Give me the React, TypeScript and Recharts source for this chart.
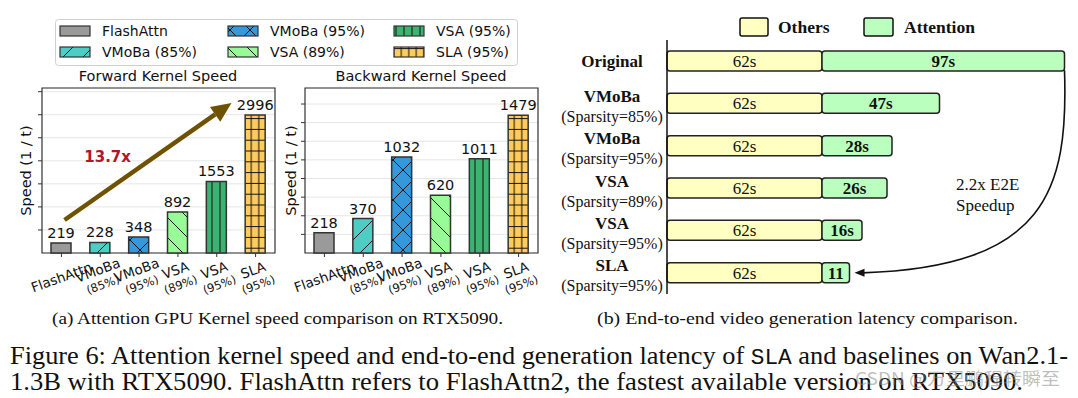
import React from 'react';
import { BarChart, Bar, XAxis, YAxis, CartesianGrid, LabelList, Cell, ReferenceLine, ReferenceDot, ReferenceArea } from 'recharts';

// (a) kernel speed
const kernelNames = ['FlashAttn', 'VMoBa', 'VMoBa', 'VSA', 'VSA', 'SLA'];
const kernelSparsity = ['', '(85%)', '(95%)', '(89%)', '(95%)', '(95%)'];
const legendLabels = ['FlashAttn', 'VMoBa (85%)', 'VMoBa (95%)', 'VSA (89%)', 'VSA (95%)', 'SLA (95%)'];
const forwardSpeed = [219, 228, 348, 892, 1553, 2996];
const backwardSpeed = [218, 370, 1032, 620, 1011, 1479];
const forwardTicks = [500, 1000, 1500, 2000, 2500, 3000, 3500];
const backwardTicks = [200, 400, 600, 800, 1000, 1200, 1400, 1600];

// (b) end-to-end latency
const e2eMethods = ['Original', 'VMoBa', 'VMoBa', 'VSA', 'VSA', 'SLA'];
const e2eSparsity = ['', '(Sparsity=85%)', '(Sparsity=95%)', '(Sparsity=89%)', '(Sparsity=95%)', '(Sparsity=95%)'];
const othersTime = [62, 62, 62, 62, 62, 62];
const attentionTime = [97, 47, 28, 26, 16, 11];
const attentionLabels = ['97s', '47s', '28s', '26s', '16s', '11'];

const kernelColors = ['#9a9a9a', '#4ecdc4', '#3498db', '#98fb98', '#3cb371', '#ffcb5c'];
const hatches = [
  { w: 20, h: 20, d: '' },
  { w: 20, h: 20, d: 'M-5,5L5,-5M0,20L20,0M15,25L25,15' },
  { w: 20, h: 20, d: 'M-5,5L5,-5M0,20L20,0M15,25L25,15M-5,15L5,25M0,0L20,20M15,-5L25,5' },
  { w: 20, h: 20, d: 'M-5,15L5,25M0,0L20,20M15,-5L25,5' },
  { w: 8, h: 10, d: 'M4,0V10' },
  { w: 7.5, h: 10.8, d: 'M3.75,0V10.8M0,5.4H7.5' },
];

const SANS = '"DejaVu Sans", sans-serif';
const SERIF = '"Liberation Serif", "Times New Roman", serif';

const PatternDefs = () => (
  <svg width={0} height={0} style={{ position: 'absolute' }}>
    <defs>
      {hatches.map((h, i) => (
        <pattern key={i} id={`hatch-${i}`} patternUnits="userSpaceOnUse" width={h.w} height={h.h}>
          <rect width={h.w} height={h.h} fill={kernelColors[i]} />
          {h.d && <path d={h.d} stroke="#111" strokeWidth={1} fill="none" />}
        </pattern>
      ))}
    </defs>
  </svg>
);

const KernelTick = (props: any) => {
  const { x, y, payload } = props;
  const i = payload.value;
  const sub = kernelSparsity[i];
  return (
    <g transform={`translate(${x},${y + 18}) rotate(-20)`}>
      <text textAnchor="middle" dominantBaseline="central" y={sub ? -7.5 : 0} fontSize={13.5} fill="#111" fontFamily={SANS}>
        {kernelNames[i]}
      </text>
      {sub && (
        <text textAnchor="middle" dominantBaseline="central" y={8} fontSize={11.5} fill="#111" fontFamily={SANS}>
          {sub}
        </text>
      )}
    </g>
  );
};

const SpeedArrow = (props: any) => {
  const { x1, y1, x2, y2 } = props;
  const ang = Math.atan2(y2 - y1, x2 - x1);
  const headLen = 20;
  const headHalf = 9;
  const bx = x2 - headLen * Math.cos(ang);
  const by = y2 - headLen * Math.sin(ang);
  const nx = -Math.sin(ang);
  const ny = Math.cos(ang);
  return (
    <g>
      <line x1={x1} y1={y1} x2={bx} y2={by} stroke="#6e5200" strokeWidth={4.5} />
      <polygon
        points={`${x2},${y2} ${bx + nx * headHalf},${by + ny * headHalf} ${bx - nx * headHalf},${by - ny * headHalf}`}
        fill="#6e5200"
      />
    </g>
  );
};

const SpeedupText = (props: any) => (
  <text x={props.cx} y={props.cy} textAnchor="middle" dominantBaseline="central" fontSize={15} fontWeight="bold" fill="#b5152b" fontFamily={SANS}>
    13.7x
  </text>
);

interface KernelChartProps {
  values: number[];
  ticks: number[];
  yMax: number;
  labelX: number;
  withArrow?: boolean;
}

const KernelChart = ({ values, ticks, yMax, labelX, withArrow }: KernelChartProps) => {
  const data = values.map((v, i) => ({ idx: i, speed: v }));
  return (
    <BarChart width={286} height={240} data={data} margin={{ top: 18, right: 11, bottom: 7, left: 0 }} style={{ fontFamily: SANS }}>
      <CartesianGrid vertical={false} stroke="#e6e6e6" />
      <XAxis
        type="number"
        dataKey="idx"
        domain={[-0.5, 5.5]}
        ticks={[0, 1, 2, 3, 4, 5]}
        interval={0}
        axisLine={false}
        tickSize={4}
        tickLine={{ stroke: '#333' }}
        tick={<KernelTick />}
        height={50}
      />
      <YAxis
        type="number"
        domain={[0, yMax]}
        ticks={ticks}
        width={42}
        axisLine={false}
        tickSize={4}
        tickLine={{ stroke: '#333' }}
        tickFormatter={() => ''}
        label={{ value: 'Speed (1 / t)', angle: -90, position: 'insideLeft', offset: labelX, style: { textAnchor: 'middle', fontSize: 14.5, fill: '#111', fontFamily: SANS } }}
      />
      <Bar dataKey="speed" barSize={20} isAnimationActive={false} stroke="#333" strokeWidth={1.5}>
        {data.map((d, i) => (
          <Cell key={d.idx} fill={`url(#hatch-${i})`} />
        ))}
        <LabelList dataKey="speed" position="top" offset={5} fontSize={14.5} fill="#111" fontFamily={SANS} />
      </Bar>
      <ReferenceArea x1={-0.5} x2={5.5} y1={0} y2={yMax} fill="none" stroke="#333" strokeWidth={1.2} />
      {withArrow && (
        <ReferenceLine segment={[{ x: 0.08, y: 716 }, { x: 4.38, y: 3255 }]} shape={SpeedArrow} />
      )}
      {withArrow && <ReferenceDot x={1.19} y={2083} r={0} shape={SpeedupText} />}
    </BarChart>
  );
};

const E2ETick = (props: any) => {
  const { x, y, payload } = props;
  const i = Number(String(payload.value).replace('row', ''));
  const sub = e2eSparsity[i];
  const cx = x - 55;
  return (
    <g fontFamily={SERIF} fill="#111">
      <text x={cx} y={sub ? y - 7 : y} textAnchor="middle" dominantBaseline="central" fontSize={17} fontWeight="bold">
        {e2eMethods[i]}
      </text>
      {sub && (
        <text x={cx} y={y + 13} textAnchor="middle" dominantBaseline="central" fontSize={16}>
          {sub}
        </text>
      )}
    </g>
  );
};

const CurveArrow = (props: any) => {
  const { x1, y1, x2, y2 } = props;
  const sy = y1 + 9;
  const d = `M${x1},${sy} C${x1 + 4},${sy + 120} ${x1 - 18},${y2 - 6} ${x2 + 8},${y2}`;
  return (
    <g>
      <path d={d} fill="none" stroke="#111" strokeWidth={1.6} />
      <polygon points={`${x2},${y2} ${x2 + 10},${y2 - 4} ${x2 + 10},${y2 + 4}`} fill="#111" />
    </g>
  );
};

const E2EChart = () => {
  const data = e2eMethods.map((m, i) => ({
    id: `row${i}`,
    others: othersTime[i],
    attention: attentionTime[i],
    othersLabel: `${othersTime[i]}s`,
    attnLabel: attentionLabels[i],
  }));
  return (
    <BarChart layout="vertical" width={518} height={310} data={data} margin={{ top: 40, right: 11, bottom: 16, left: 0 }}>
      <XAxis type="number" domain={[0, 160]} hide />
      <YAxis
        type="category"
        dataKey="id"
        width={107}
        tickSize={0}
        tickMargin={0}
        tickLine={false}
        axisLine={{ stroke: '#111', strokeWidth: 1.5 }}
        tick={<E2ETick />}
        interval={0}
      />
      <Bar dataKey="others" stackId="t" barSize={20} fill="#ffffc2" stroke="#222" strokeWidth={1.5} radius={3} isAnimationActive={false}>
        <LabelList dataKey="othersLabel" position="center" fontSize={17} fill="#111" fontFamily={SERIF} />
      </Bar>
      <Bar dataKey="attention" stackId="t" barSize={20} fill="#bbffbe" stroke="#222" strokeWidth={1.5} radius={3} isAnimationActive={false}>
        <LabelList dataKey="attnLabel" position="center" fontSize={17} fontWeight="bold" fill="#111" fontFamily={SERIF} />
      </Bar>
      <ReferenceLine segment={[{ x: 159, y: 'row0' }, { x: 75, y: 'row5' }]} shape={CurveArrow} />
    </BarChart>
  );
};

const App = () => (
  <div style={{ position: 'absolute', left: 0, top: 0, width: 1078, height: 398, background: '#fff', overflow: 'hidden' }}>
    <PatternDefs />
    <div style={{ position: 'absolute', left: 0, top: 70 }}>
      <KernelChart values={forwardSpeed} ticks={forwardTicks} yMax={3580} labelX={26} withArrow />
    </div>
    <div style={{ position: 'absolute', left: 263, top: 70 }}>
      <KernelChart values={backwardSpeed} ticks={backwardTicks} yMax={1772} labelX={28} />
    </div>
    <div style={{ position: 'absolute', left: 560, top: 0 }}>
      <E2EChart />
    </div>
    <svg width={1078} height={398} style={{ position: 'absolute', left: 0, top: 0, pointerEvents: 'none' }}>
      {/* kernel legend */}
      <rect x={55.5} y={19.5} width={462} height={46} rx={3} fill="#fff" fillOpacity={0.8} stroke="#d0d0d0" />
      {legendLabels.map((name, i) => {
        const colX = [60, 228, 394][Math.floor(i / 2)];
        const rowY = [31, 52][i % 2];
        return (
          <g key={name}>
            <rect x={colX} y={rowY - 5} width={30} height={10} fill={`url(#hatch-${i})`} stroke="#333" strokeWidth={1.2} />
            <text x={colX + 42} y={rowY} dominantBaseline="central" fontSize={14} fill="#111" fontFamily={SANS}>
              {name}
            </text>
          </g>
        );
      })}
      <text x={158} y={81} textAnchor="middle" fontSize={14.5} fill="#111" fontFamily={SANS}>Forward Kernel Speed</text>
      <text x={421} y={81} textAnchor="middle" fontSize={14.5} fill="#111" fontFamily={SANS}>Backward Kernel Speed</text>

      {/* e2e legend */}
      <rect x={740} y={18} width={28} height={18} rx={2} fill="#ffffc2" stroke="#111" strokeWidth={1.5} />
      <text x={778} y={33} fontSize={17.5} fontWeight="bold" fill="#111" fontFamily={SERIF}>Others</text>
      <rect x={864} y={18} width={29} height={18} rx={2} fill="#bbffbe" stroke="#111" strokeWidth={1.5} />
      <text x={904} y={33} fontSize={17.5} fontWeight="bold" fill="#111" fontFamily={SERIF}>Attention</text>
      <text x={956} y={190} fontSize={17} fill="#111" fontFamily={SERIF}>2.2x E2E</text>
      <text x={956} y={211} fontSize={17} fill="#111" fontFamily={SERIF}>Speedup</text>

      {/* captions */}
      <text x={52} y={324} fontSize={17.5} fill="#111" fontFamily={SERIF} textLength={451} lengthAdjust="spacingAndGlyphs">
        (a) Attention GPU Kernel speed comparison on RTX5090.
      </text>
      <text x={597} y={324} fontSize={17} fill="#111" fontFamily={SERIF} textLength={421} lengthAdjust="spacingAndGlyphs">
        (b) End-to-end video generation latency comparison.
      </text>
      <text x={10} y={364} fontSize={25.5} fill="#111" fontFamily={SERIF} textLength={1058} lengthAdjust="spacingAndGlyphs">
        Figure 6: Attention kernel speed and end-to-end generation latency of{' '}
        <tspan fontFamily='"Liberation Mono", "DejaVu Sans Mono", monospace' fontSize={22}>SLA</tspan> and baselines on Wan2.1-
      </text>
      <text x={10} y={390} fontSize={25.5} fill="#111" fontFamily={SERIF} textLength={1013} lengthAdjust="spacingAndGlyphs">
        1.3B with RTX5090. FlashAttn refers to FlashAttn2, the fastest available version on RTX5090.
      </text>
      <text x={855} y={385} fontSize={17} fill="#888" fillOpacity={0.55} fontFamily='"Noto Sans CJK SC", sans-serif' textLength={205} lengthAdjust="spacingAndGlyphs">
        CSDN @万里鹏程转瞬至
      </text>
    </svg>
  </div>
);

export default App;
